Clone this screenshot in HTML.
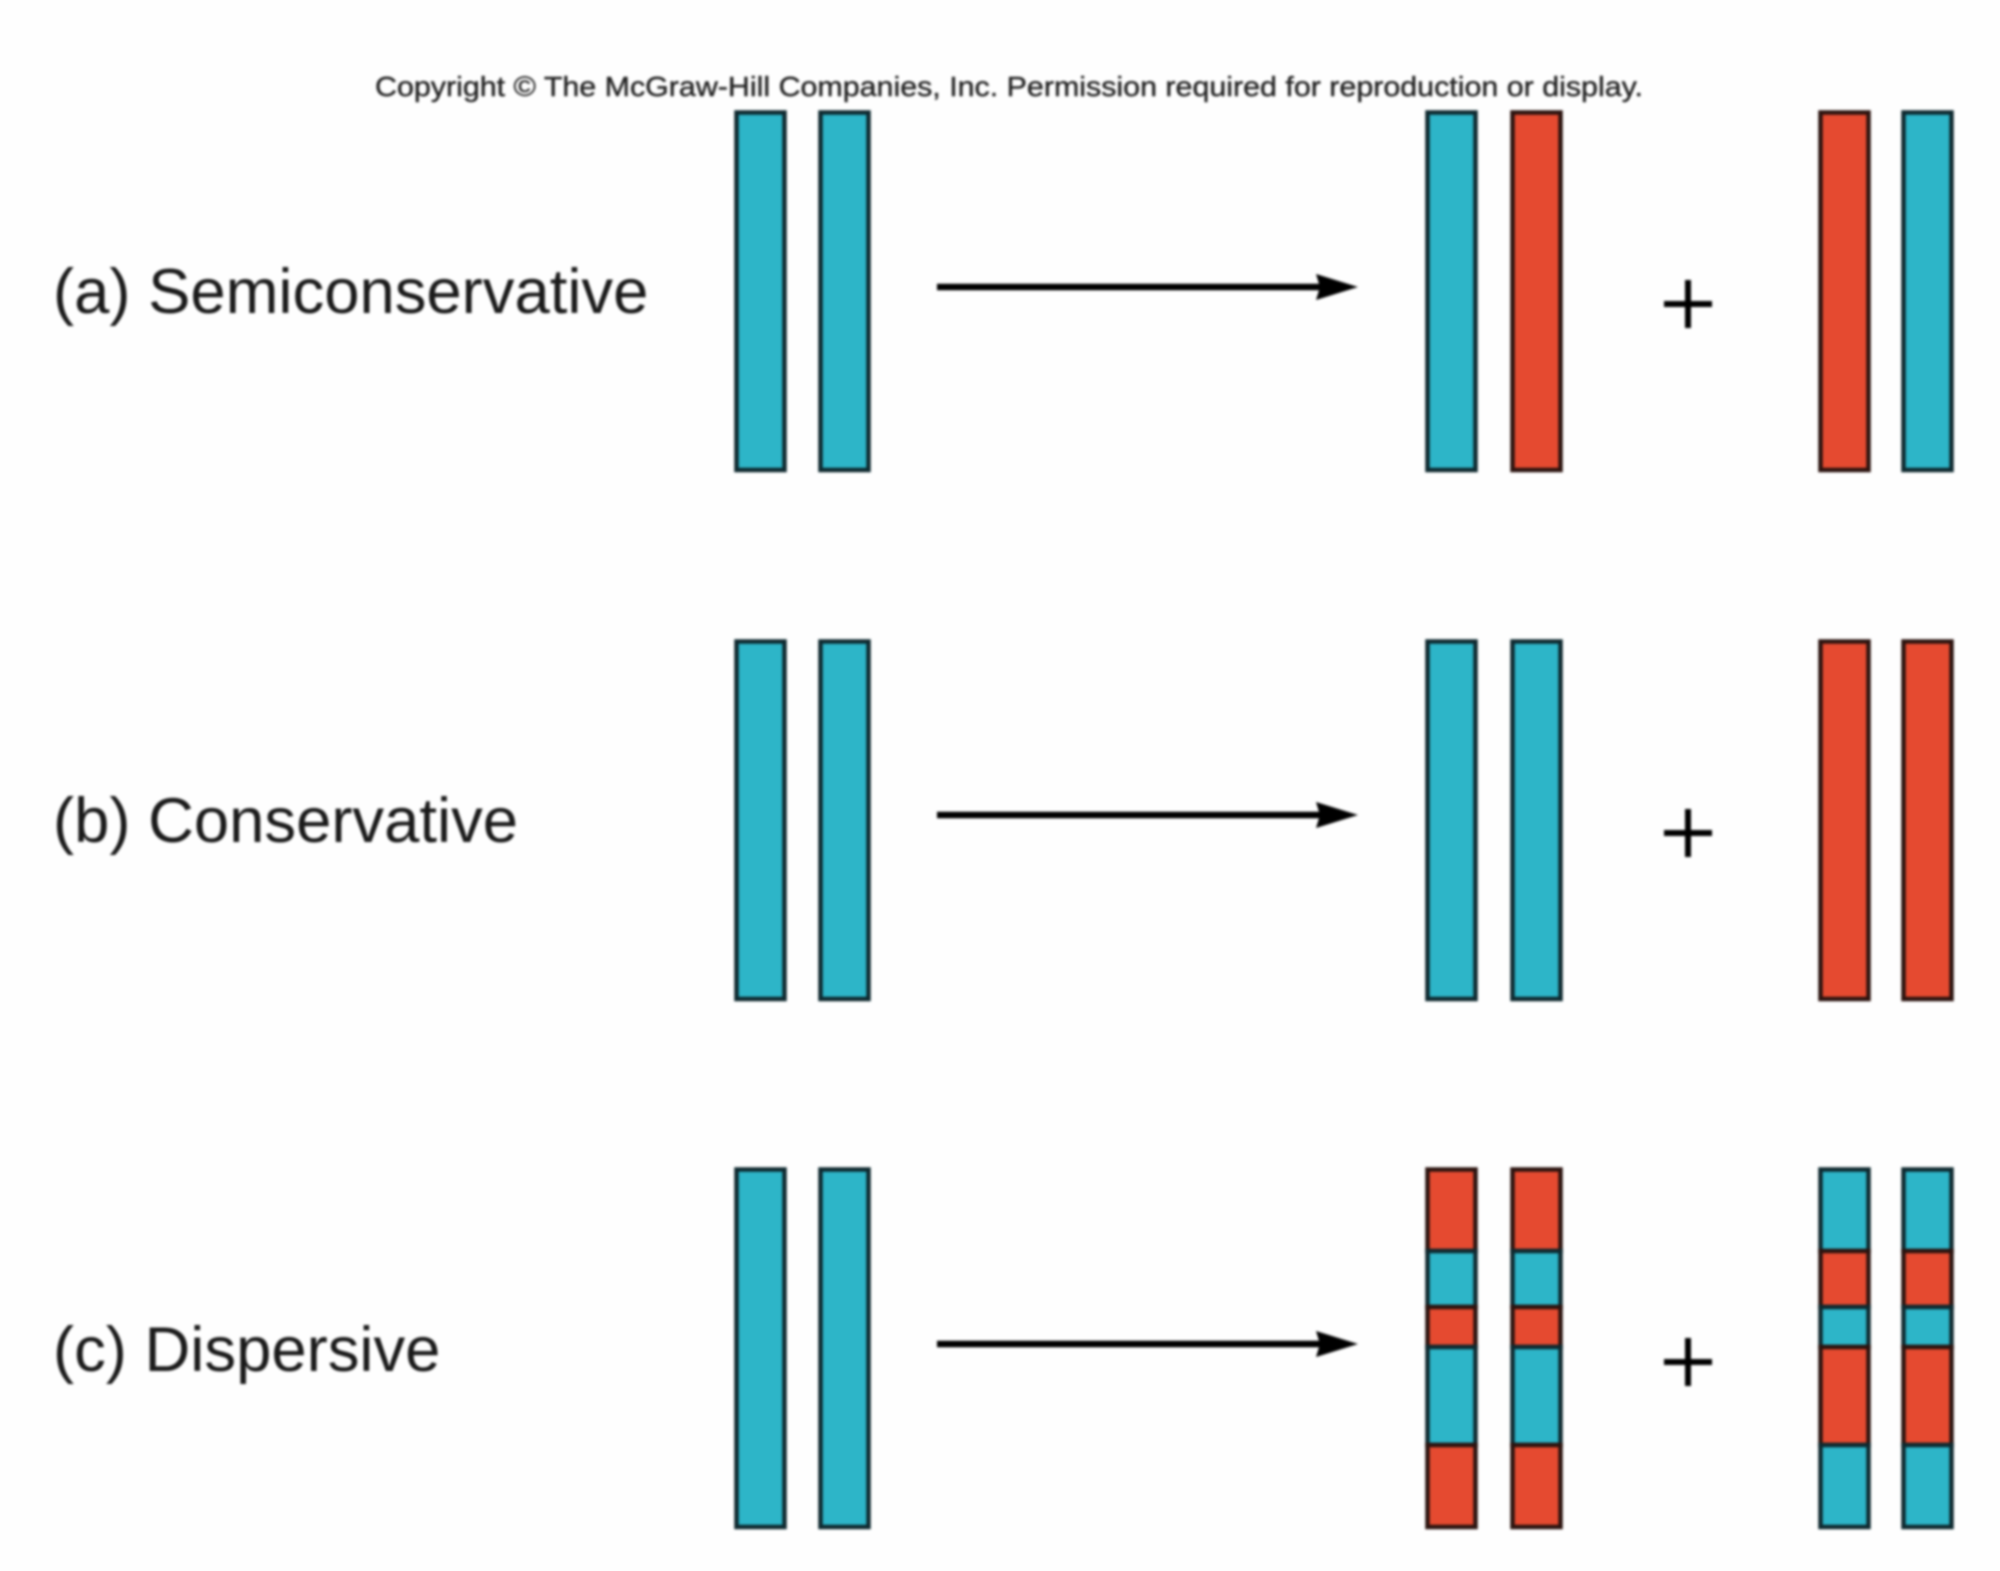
<!DOCTYPE html>
<html>
<head>
<meta charset="utf-8">
<style>
html,body{margin:0;padding:0;background:#fefefe;width:2000px;height:1571px;overflow:hidden}
svg{display:block;filter:blur(1.3px)}
text{font-family:"Liberation Sans",Arial,sans-serif;fill:#1a1a1a}
.c{fill:#2db5c8;stroke:#0f2a30;stroke-width:4.5}
.r{fill:#e54a30;stroke:#2c1410;stroke-width:4.5}
.ar{stroke:#000;stroke-width:6.5;fill:none}
.pl{stroke:#000;stroke-width:6;fill:none}
</style>
</head>
<body>
<svg width="2000" height="1571" viewBox="0 0 2000 1571" xmlns="http://www.w3.org/2000/svg">
<rect width="2000" height="1571" fill="#fefefe"/>
<text x="375" y="96" font-size="28" textLength="1268" lengthAdjust="spacingAndGlyphs" stroke="#222" stroke-width="0.4" style="fill:#222">Copyright © The McGraw-Hill Companies, Inc. Permission required for reproduction or display.</text>

<text x="53" y="313" font-size="63.4">(a) Semiconservative</text>
<text x="53" y="842" font-size="63.4">(b) Conservative</text>
<text x="53" y="1371" font-size="63.4">(c) Dispersive</text>

<!-- Row a -->
<rect class="c" x="736.500" y="112.500" width="48" height="357.500"/>
<rect class="c" x="820.500" y="112.500" width="48" height="357.500"/>
<rect class="c" x="1427.500" y="112.500" width="48" height="357.500"/>
<rect class="r" x="1512.500" y="112.500" width="48" height="357.500"/>
<rect class="r" x="1820.500" y="112.500" width="48" height="357.500"/>
<rect class="c" x="1903.500" y="112.500" width="48" height="357.500"/>
<path class="ar" d="M937 287H1325"/>
<path d="M1316 274L1358 287L1316 300L1320 287Z" fill="#000"/>
<path class="pl" d="M1664 304H1712M1688 280V328"/>

<!-- Row b -->
<rect class="c" x="736.500" y="641.500" width="48" height="357.500"/>
<rect class="c" x="820.500" y="641.500" width="48" height="357.500"/>
<rect class="c" x="1427.500" y="641.500" width="48" height="357.500"/>
<rect class="c" x="1512.500" y="641.500" width="48" height="357.500"/>
<rect class="r" x="1820.500" y="641.500" width="48" height="357.500"/>
<rect class="r" x="1903.500" y="641.500" width="48" height="357.500"/>
<path class="ar" d="M937 815H1325"/>
<path d="M1316 802L1358 815L1316 828L1320 815Z" fill="#000"/>
<path class="pl" d="M1664 833H1712M1688 809V857"/>

<!-- Row c -->
<rect class="c" x="736.500" y="1169.500" width="48" height="357.500"/>
<rect class="c" x="820.500" y="1169.500" width="48" height="357.500"/>
<path class="ar" d="M937 1344H1325"/>
<path d="M1316 1331L1358 1344L1316 1357L1320 1344Z" fill="#000"/>
<path class="pl" d="M1664 1362H1712M1688 1338V1386"/>

<g>
<rect class="r" x="1427.500" y="1169.500" width="48" height="81.500"/>
<rect class="c" x="1427.500" y="1251" width="48" height="56"/>
<rect class="r" x="1427.500" y="1307" width="48" height="40"/>
<rect class="c" x="1427.500" y="1347" width="48" height="98"/>
<rect class="r" x="1427.500" y="1445" width="48" height="82"/>

<rect class="r" x="1512.500" y="1169.500" width="48" height="81.500"/>
<rect class="c" x="1512.500" y="1251" width="48" height="56"/>
<rect class="r" x="1512.500" y="1307" width="48" height="40"/>
<rect class="c" x="1512.500" y="1347" width="48" height="98"/>
<rect class="r" x="1512.500" y="1445" width="48" height="82"/>

<rect class="c" x="1820.500" y="1169.500" width="48" height="81.500"/>
<rect class="r" x="1820.500" y="1251" width="48" height="56"/>
<rect class="c" x="1820.500" y="1307" width="48" height="40"/>
<rect class="r" x="1820.500" y="1347" width="48" height="98"/>
<rect class="c" x="1820.500" y="1445" width="48" height="82"/>

<rect class="c" x="1903.500" y="1169.500" width="48" height="81.500"/>
<rect class="r" x="1903.500" y="1251" width="48" height="56"/>
<rect class="c" x="1903.500" y="1307" width="48" height="40"/>
<rect class="r" x="1903.500" y="1347" width="48" height="98"/>
<rect class="c" x="1903.500" y="1445" width="48" height="82"/>
</g>
</svg>
</body>
</html>
